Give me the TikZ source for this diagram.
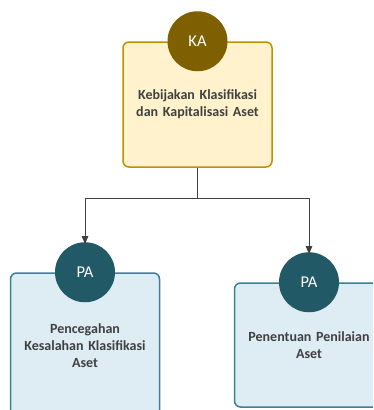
\documentclass[tikz,border=0pt]{standalone}
\usepackage{fontspec}
\setmainfont{Carlito}
\usepackage{tikz}
\usetikzlibrary{arrows,positioning,calc}
\definecolor{kaFill}{HTML}{FFF2CC}
\definecolor{kaLine}{HTML}{BF9000}
\definecolor{kaDark}{HTML}{7F6000}
\definecolor{paFill}{HTML}{DDEDF3}
\definecolor{paLine}{HTML}{3A8196}
\definecolor{paDark}{HTML}{215967}
\definecolor{txt}{HTML}{404040}
\begin{document}
\begin{tikzpicture}[x=1pt,y=-1pt]

\tikzset{card/.style={
  rectangle,
  rounded corners=6pt,
  inner sep=0pt,
  text width=145pt,
  align=center,
  line width=1.5pt,
  minimum width=149pt,
  text=txt,
  font=\fontsize{14}{17}\selectfont\bfseries
  },
  badge/.style={
  circle,
  minimum size=60pt,
  inner sep=0pt,
  text=white,
  font=\fontsize{16.5}{18}\selectfont
  }}

\useasboundingbox (0,0) rectangle (373,410);
\clip (0,0) rectangle (373,410);

\node[card, draw=kaLine, fill=kaFill, minimum height=125pt] (KAbox) at (197.5,104.5) {Kebijakan Klasifikasi\\dan Kapitalisasi Aset\\[12pt]};
\node[badge, fill=kaDark] (KA) at (KAbox.north) {KA};

\node[card, draw=paLine, fill=paFill, minimum height=146pt] (PAbox1) at (85,346) {Pencegahan\\Kesalahan Klasifikasi\\Aset\\[14pt]};
\node[badge, fill=paDark] (PA1) at (PAbox1.north) {PA};

\node[card, draw=paLine, fill=paFill, minimum height=124pt] (PAbox2) at (309,345) {Penentuan Penilaian\\Aset\\[18pt]};
\node[badge, fill=paDark] (PA2) at (PAbox2.north) {PA};

\coordinate (split) at ($(KAbox.south)+(0,31)$);
\draw[line width=0.8pt, black!75] (KAbox.south) -- (split);
\draw[line width=0.8pt, black!75, -triangle 45] (split) -| ([yshift=-2pt]PA1.north);
\draw[line width=0.8pt, black!75, -triangle 45] (split) -| ([yshift=-2pt]PA2.north);
\end{tikzpicture}
\end{document}
